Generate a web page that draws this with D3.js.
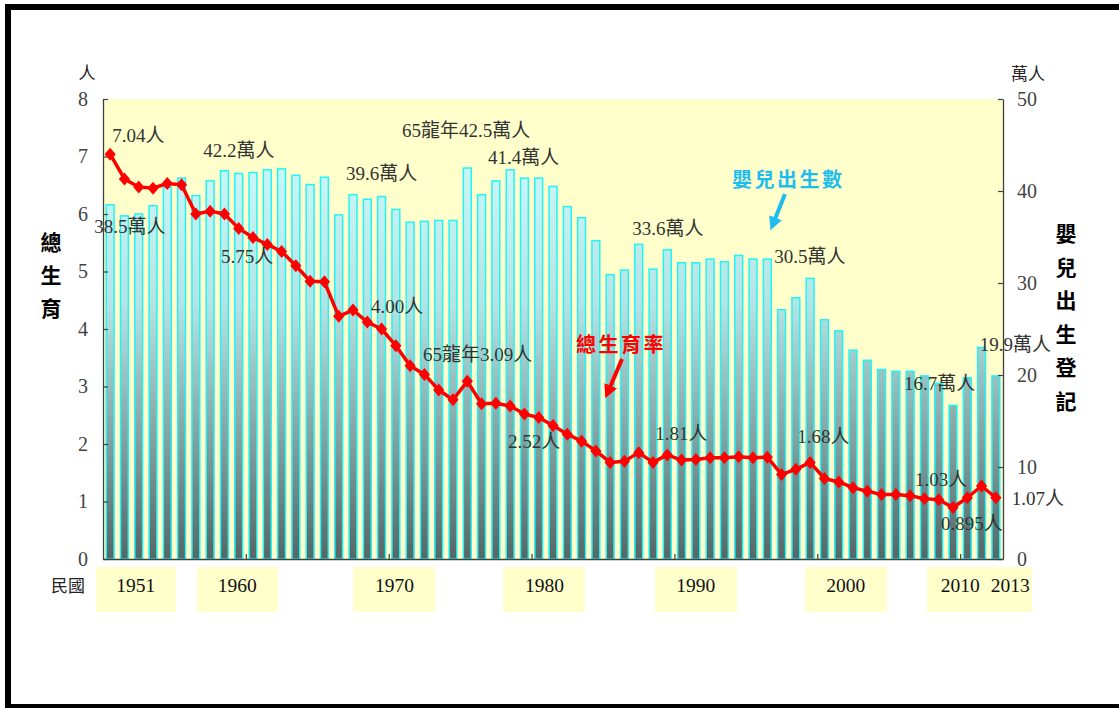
<!DOCTYPE html>
<html>
<head>
<meta charset="utf-8">
<script src="https://cdn.jsdelivr.net/npm/d3@7"></script>
<style>
  html, body { margin: 0; padding: 0; background: #fff; overflow: hidden; }
  svg { display: block; font-family: "Liberation Serif", "Noto Sans CJK TC", serif; }
</style>
</head>
<body>
<svg id="chart"></svg>
<script>
// Years 1951 - 2013
const years = d3.range(1951, 2014);

// Infant births registered (萬人)
const births = [
  38.5, 37.3, 37.5, 38.4, 40.4, 41.4, 39.5, 41.1, 42.2, 41.9,
  42.0, 42.3, 42.4, 41.7, 40.7, 41.5, 37.4, 39.6, 39.1, 39.4,
  38.0, 36.6, 36.7, 36.8, 36.8, 42.5, 39.6, 41.1, 42.3, 41.4,
  41.4, 40.5, 38.3, 37.1, 34.6, 30.9, 31.4, 34.2, 31.5, 33.6,
  32.2, 32.2, 32.6, 32.3, 33.0, 32.6, 32.6, 27.1, 28.4, 30.5,
  26.0, 24.8, 22.7, 21.6, 20.6, 20.4, 20.4, 19.9, 19.1, 16.7,
  19.7, 23.0, 19.9
];

// Total fertility rate (人)
const tfr = [
  7.04, 6.61, 6.47, 6.45, 6.53, 6.51, 6.00, 6.05, 6.00, 5.75,
  5.59, 5.47, 5.35, 5.10, 4.83, 4.82, 4.22, 4.33, 4.12, 4.00,
  3.71, 3.36, 3.21, 2.94, 2.77, 3.09, 2.70, 2.71, 2.66, 2.52,
  2.46, 2.32, 2.17, 2.05, 1.88, 1.68, 1.70, 1.85, 1.68, 1.81,
  1.72, 1.73, 1.76, 1.76, 1.78, 1.76, 1.77, 1.47, 1.56, 1.68,
  1.40, 1.34, 1.24, 1.18, 1.12, 1.12, 1.10, 1.05, 1.03, 0.895,
  1.065, 1.27, 1.065
];

const yearLabels = ["1951", "1960", "1970", "1980", "1990", "2000", "2010", "2013"];
const tfrTicks = [0, 1, 2, 3, 4, 5, 6, 7, 8];
const birthTicks = [0, 10, 20, 30, 40, 50];

// value notes
const tfrNotes = [
  { year: 1951, text: "7.04人" },
  { year: 1960, text: "5.75人" },
  { year: 1970, text: "4.00人" },
  { year: 1976, text: "65龍年3.09人" },
  { year: 1980, text: "2.52人" },
  { year: 1990, text: "1.81人" },
  { year: 2000, text: "1.68人" },
  { year: 2009, text: "1.03人" },
  { year: 2010, text: "0.895人" },
  { year: 2013, text: "1.07人" }
];
const birthNotes = [
  { year: 1951, text: "38.5萬人" },
  { year: 1959, text: "42.2萬人" },
  { year: 1968, text: "39.6萬人" },
  { year: 1976, text: "65龍年42.5萬人" },
  { year: 1980, text: "41.4萬人" },
  { year: 1990, text: "33.6萬人" },
  { year: 2000, text: "30.5萬人" },
  { year: 2010, text: "16.7萬人" },
  { year: 2013, text: "19.9萬人" }
];

// ---- layout ----
const width = 1119;
const height = 708;
const margin = { top: 99, right: 116, bottom: 149, left: 103 };
const innerWidth = width - margin.left - margin.right;
const innerHeight = height - margin.top - margin.bottom;

const svg = d3.select("#chart").attr("width", width).attr("height", height);

// outer frame (left, top, bottom edges only, as in the original)
svg.append("path")
  .attr("d", `M${width},7H8V${height - 1}H${width}`)
  .attr("fill", "none").attr("stroke", "#000").attr("stroke-width", 6);

const g = svg.append("g").attr("transform", `translate(${margin.left},${margin.top})`);

// Scales
const x = d3.scaleBand().domain(years).range([0, innerWidth])
  .paddingInner(0.45).paddingOuter(0.225);
const xLin = d3.scaleLinear().domain([1951, 2014]).range([0, innerWidth]);
const xc = (yr) => x(yr) + x.bandwidth() / 2;
const yL = d3.scaleLinear().domain([0, 8]).range([innerHeight, 0]);
const yR = d3.scaleLinear().domain([0, 50]).range([innerHeight, 0]);

// gradient for the bars
const defs = svg.append("defs");
const grad = defs.append("linearGradient")
  .attr("id", "barGrad")
  .attr("gradientUnits", "userSpaceOnUse")
  .attr("x1", 0).attr("x2", 0)
  .attr("y1", 0).attr("y2", innerHeight);
grad.append("stop").attr("offset", "0%").attr("stop-color", "#d6ffff");
grad.append("stop").attr("offset", "45%").attr("stop-color", "#b4e3e5");
grad.append("stop").attr("offset", "100%").attr("stop-color", "#556767");

// plot background
g.append("rect")
  .attr("width", innerWidth).attr("height", innerHeight)
  .attr("fill", "#ffffcc");

// Bars
g.selectAll(".bar")
  .data(years.map((yr, i) => ({ year: yr, value: births[i] })))
  .join("rect")
  .attr("class", "bar")
  .attr("x", (d) => x(d.year))
  .attr("y", (d) => yR(d.value))
  .attr("width", x.bandwidth())
  .attr("height", (d) => innerHeight - yR(d.value))
  .attr("fill", "url(#barGrad)")
  .attr("stroke", "#22f4f6")
  .attr("stroke-width", 1.5);

// Axes
const axisColor = "#404040";
const yAxisL = g.append("g")
  .call(d3.axisLeft(yL).tickValues(tfrTicks).tickSizeInner(-5).tickSizeOuter(0).tickPadding(15));
const yAxisR = g.append("g")
  .attr("transform", `translate(${innerWidth},0)`)
  .call(d3.axisRight(yR).tickValues(birthTicks).tickSizeInner(-5).tickSizeOuter(0).tickPadding(14));
const xAxis = g.append("g")
  .attr("transform", `translate(0,${innerHeight})`)
  .call(d3.axisBottom(xLin).tickValues([1961, 1971, 1981, 1991, 2001, 2011])
    .tickSizeInner(-5).tickSizeOuter(0).tickFormat(""));

[yAxisL, yAxisR, xAxis].forEach((a) => {
  a.attr("font-family", "Liberation Serif");
  a.select(".domain").attr("stroke", axisColor).attr("stroke-width", 1.3);
  a.selectAll(".tick line").attr("stroke", axisColor).attr("stroke-width", 1.2);
  a.selectAll(".tick text")
    .attr("font-size", 20)
    .attr("fill", "#444");
});

// Line + diamonds
const line = d3.line()
  .x((d) => xc(d.year))
  .y((d) => yL(d.value));
const tfrData = years.map((yr, i) => ({ year: yr, value: tfr[i] }));

g.append("path")
  .datum(tfrData)
  .attr("d", line)
  .attr("fill", "none")
  .attr("stroke", "#ff0000")
  .attr("stroke-width", 3.5)
  .attr("stroke-linejoin", "round");

g.selectAll(".pt")
  .data(tfrData)
  .join("path")
  .attr("class", "pt")
  .attr("d", "M0,-6.5L5.6,0L0,6.5L-5.6,0Z")
  .attr("transform", (d) => `translate(${xc(d.year)},${yL(d.value)})`)
  .attr("fill", "#ff0000");

// helper for plain text
function label(parent, px, py, txt, size, opts = {}) {
  return parent.append("text")
    .attr("x", px).attr("y", py)
    .attr("font-size", size)
    .attr("fill", opts.fill || "#333")
    .attr("text-anchor", opts.anchor || "start")
    .text(txt);
}

// Value notes (offsets from the mark)
const tfrOffsets = {
  1951: [2, -12.7], 1960: [-17.6, 35], 1970: [-10.5, -16.5], 1976: [-44.3, -20],
  1980: [-16.4, 33.5], 1990: [-12, -14.5], 2000: [-13, -19], 2009: [-23.7, -14],
  2010: [-12, 22], 2013: [16, 7]
};
const birthOffsets = {
  1951: [-16, 27.7], 1959: [-21.3, -13.3], 1968: [-7, -15], 1976: [-65.3, -31.5],
  1980: [-36.4, -14.6], 1990: [-35, -14.4], 2000: [-36, -15], 2010: [-49, -15], 2013: [-16, -24.5]
};
birthNotes.forEach((n) => {
  const [dx, dy] = birthOffsets[n.year];
  label(g, xc(n.year) + dx, yR(births[years.indexOf(n.year)]) + dy, n.text, 19);
});
tfrNotes.forEach((n) => {
  const [dx, dy] = tfrOffsets[n.year];
  label(g, xc(n.year) + dx, yL(tfr[years.indexOf(n.year)]) + dy, n.text, 19);
});

// series captions with arrows
function arrowHead(id, color) {
  defs.append("marker")
    .attr("id", id)
    .attr("viewBox", "0 0 10 10")
    .attr("refX", 5).attr("refY", 5)
    .attr("markerWidth", 3.4).attr("markerHeight", 3.4)
    .attr("orient", "auto")
    .append("path").attr("d", "M0,0L10,5L0,10Z").attr("fill", color);
}
arrowHead("arrRed", "#ff0000");
arrowHead("arrCyan", "#1fbdef");

svg.append("text")
  .attr("x", 576).attr("y", 352)
  .attr("font-family", "Noto Sans CJK TC")
  .attr("font-size", 20).attr("font-weight", "bold")
  .attr("letter-spacing", 2.5)
  .attr("fill", "#ff0000")
  .text("總生育率");
svg.append("line")
  .attr("x1", 622).attr("y1", 359).attr("x2", 608).attr("y2", 392)
  .attr("stroke", "#ff0000").attr("stroke-width", 4)
  .attr("marker-end", "url(#arrRed)");

svg.append("text")
  .attr("x", 732).attr("y", 187)
  .attr("font-family", "Noto Sans CJK TC")
  .attr("font-size", 20).attr("font-weight", "bold")
  .attr("letter-spacing", 2.5)
  .attr("fill", "#1fbdef")
  .text("嬰兒出生數");
svg.append("line")
  .attr("x1", 785).attr("y1", 194).attr("x2", 773).attr("y2", 224)
  .attr("stroke", "#1fbdef").attr("stroke-width", 4)
  .attr("marker-end", "url(#arrCyan)");

// Year label boxes
const yearBoxes = [[96, 176], [197, 278], [353, 435], [503, 585], [655, 737], [805, 887], [927, 1032]];
svg.selectAll(".ybox")
  .data(yearBoxes)
  .join("rect")
  .attr("class", "ybox")
  .attr("x", (d) => d[0]).attr("y", 567)
  .attr("width", (d) => d[1] - d[0]).attr("height", 45)
  .attr("fill", "#ffffcc");
const yearLabelPos = [1953.3, 1960.4, 1971.4, 1981.9, 1992.5, 2003.0, 2011.0, 2014.5];
yearLabels.forEach((t, i) => {
  label(svg, margin.left + xLin(yearLabelPos[i]), 592, t, 19.5, { anchor: "middle", fill: "#111" });
});
label(svg, 68, 592, "民國", 17, { anchor: "middle", fill: "#222" });

// unit labels
label(svg, 87, 79, "人", 17, { anchor: "middle", fill: "#222" });
label(svg, 1028, 80, "萬人", 17, { anchor: "middle", fill: "#222" });

// vertical axis titles
const leftTitle = "總生育";
leftTitle.split("").forEach((ch, i) => {
  svg.append("text")
    .attr("x", 51).attr("y", 250 + i * 33)
    .attr("text-anchor", "middle")
    .attr("font-family", "Noto Sans CJK TC")
    .attr("font-size", 21).attr("font-weight", "bold")
    .attr("fill", "#000")
    .text(ch);
});
const rightTitle = "嬰兒出生登記";
rightTitle.split("").forEach((ch, i) => {
  svg.append("text")
    .attr("x", 1066).attr("y", 241 + i * 33.5)
    .attr("text-anchor", "middle")
    .attr("font-family", "Noto Sans CJK TC")
    .attr("font-size", 21).attr("font-weight", "bold")
    .attr("fill", "#000")
    .text(ch);
});
</script>
</body>
</html>
